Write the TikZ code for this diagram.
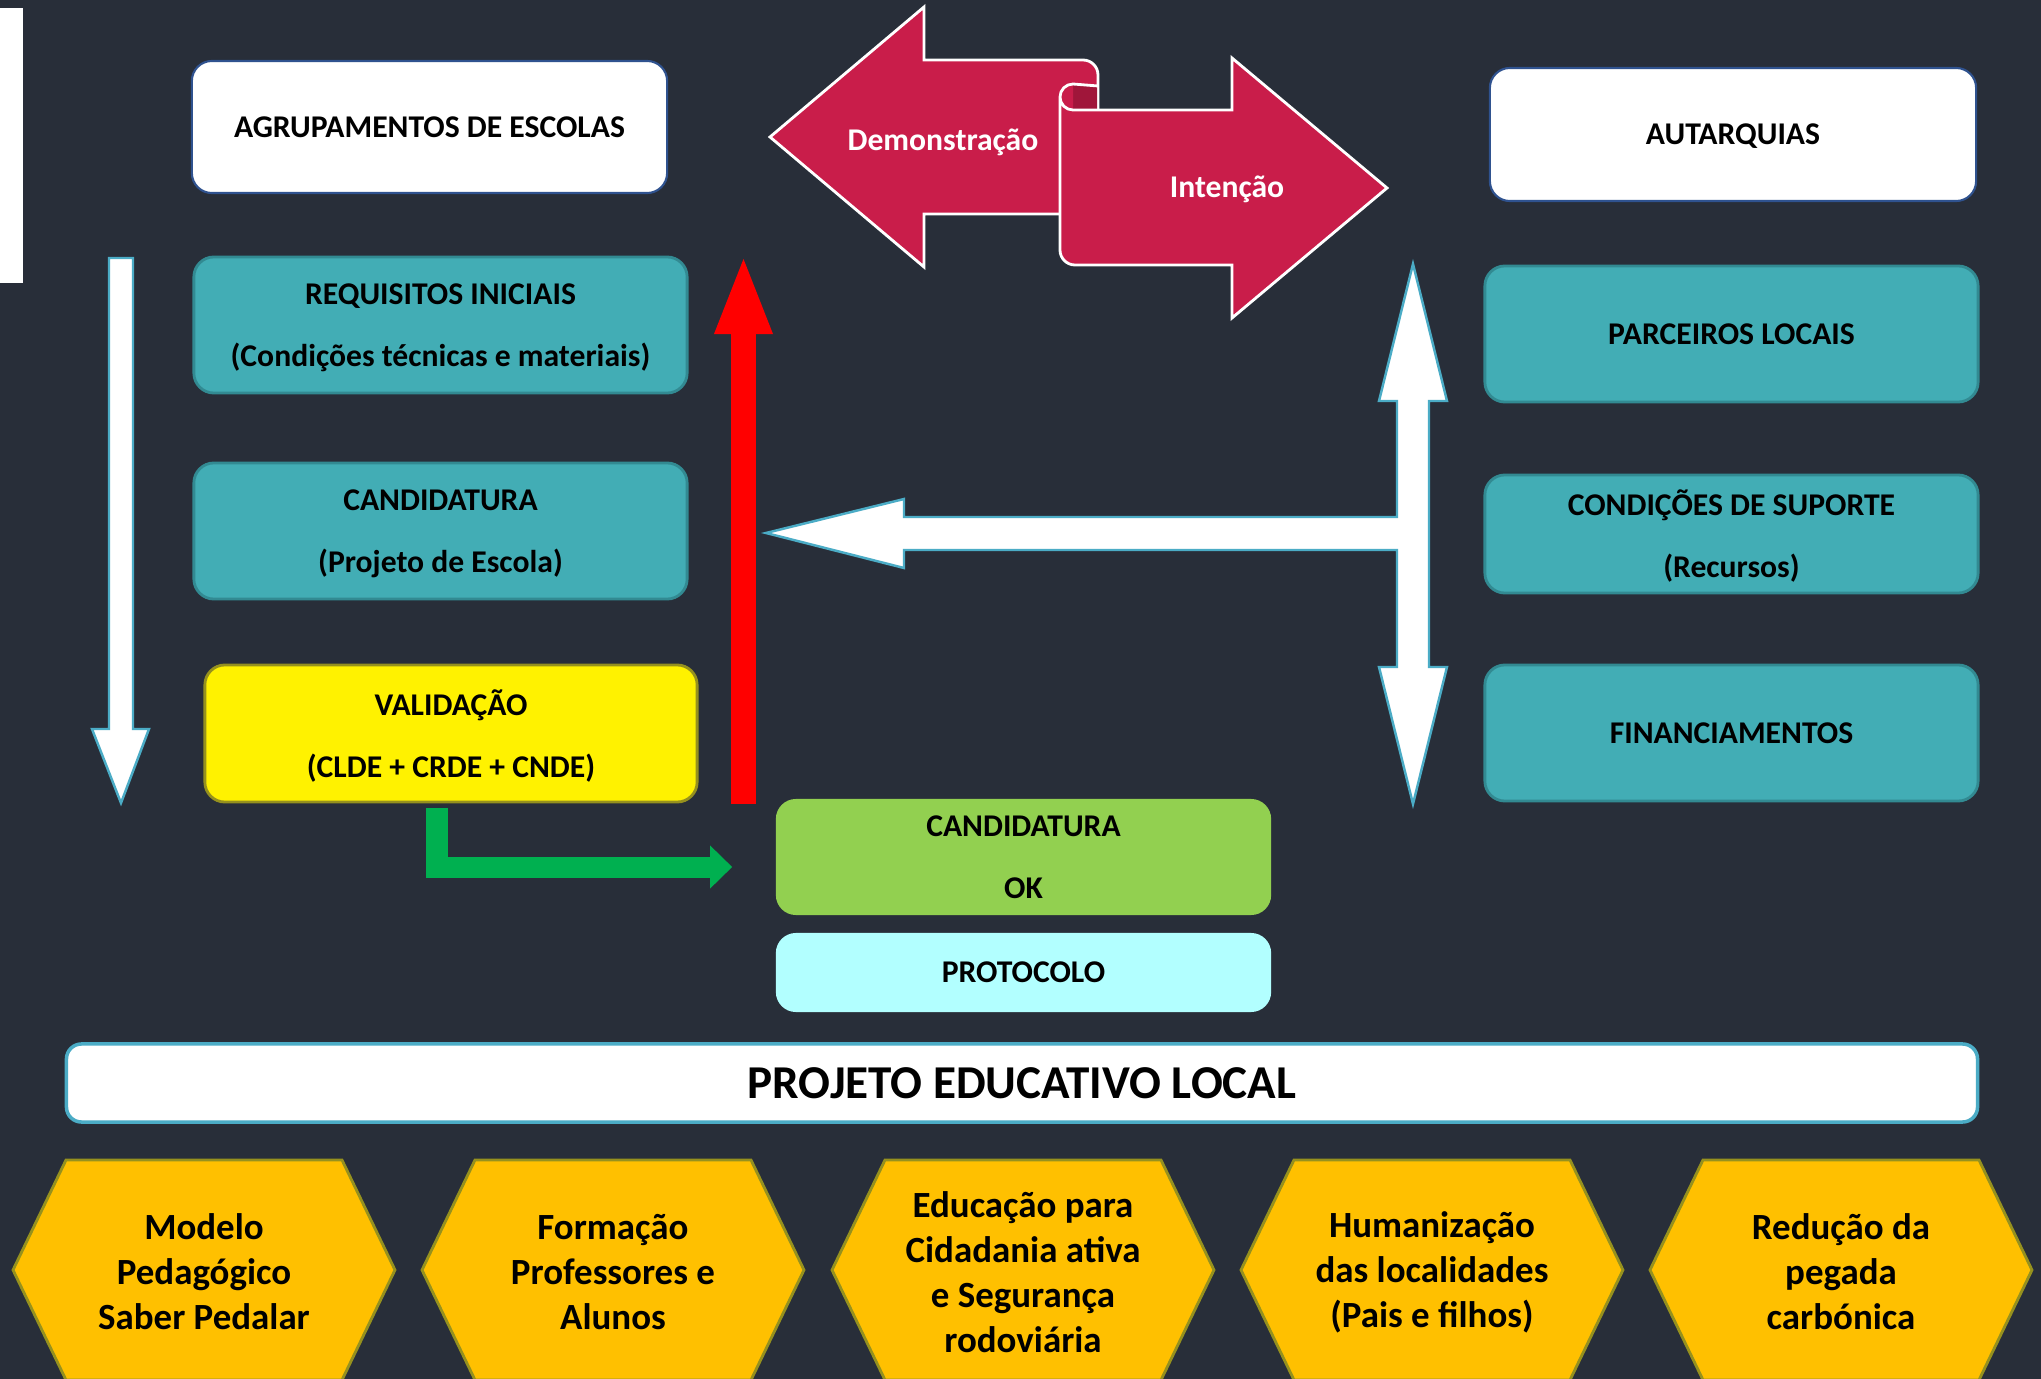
\documentclass[tikz,border=0pt]{standalone}
\usepackage{fontspec}
\setmainfont{Carlito}
\usetikzlibrary{arrows.meta}

\definecolor{fundo}{RGB}{40,46,57}
\definecolor{azulpet}{RGB}{66,173,181}
\definecolor{azulborda}{RGB}{50,138,146}
\definecolor{carmim}{RGB}{201,29,74}
\definecolor{carmimesc}{RGB}{160,22,58}
\definecolor{verdeok}{RGB}{146,208,80}
\definecolor{verdeseta}{RGB}{0,176,80}
\definecolor{ciano}{RGB}{178,255,255}
\definecolor{laranja}{RGB}{255,192,0}
\definecolor{oliva}{RGB}{150,145,30}
\definecolor{marinho}{RGB}{47,82,143}
\definecolor{contorno}{RGB}{75,172,198}

\begin{document}
\begin{tikzpicture}[x=0.01cm,y=-0.01cm,
    caixa/.style={rectangle,rounded corners=0.2cm,align=center,inner sep=0pt,text depth=0pt,
      font=\fontsize{9}{17.6}\selectfont\bfseries},
    branca/.style={caixa,fill=white,draw=marinho,line width=0.6pt},
    azul/.style={caixa,fill=azulpet,draw=azulborda,line width=0.8pt},
    seta/.style={fill=white,draw=contorno,line width=0.7pt},
    fita/.style={fill=carmim,draw=white,line width=0.8pt},
    hexa/.style={fill=laranja,draw=oliva,line width=0.8pt},
    hextexto/.style={align=center,font=\fontsize{10.5}{12.8}\selectfont\bfseries}]
  \useasboundingbox (0,0) rectangle (2041,1379);
  \fill[fundo] (0,0) rectangle (2041,1379);
  \fill[white] (0,8) rectangle (23,283);

  % left column
  \node[branca,minimum width=4.75cm,minimum height=1.32cm] (agr) at (429.5,127) {AGRUPAMENTOS DE ESCOLAS};
  \node[azul,minimum width=4.93cm,minimum height=1.36cm] (req) at (440.5,325) {REQUISITOS INICIAIS\\(Condições técnicas e materiais)};
  \node[azul,minimum width=4.93cm,minimum height=1.36cm] (cand) at (440.5,531) {CANDIDATURA\\(Projeto de Escola)};
  \node[caixa,fill=yellow,draw=oliva,line width=0.8pt,minimum width=4.92cm,minimum height=1.37cm] (valid) at (451,733.5) {VALIDAÇÃO\\(CLDE + CRDE + CNDE)};
  \draw[seta] (109,258) -- (133,258) -- (133,729) -- (149,729) -- (121,803) -- (92,729) -- (109,729) -- cycle;

  % right column
  \node[branca,minimum width=4.86cm,minimum height=1.33cm] (aut) at (1733,134.5) {AUTARQUIAS};
  \node[azul,minimum width=4.93cm,minimum height=1.36cm] (parc) at (1731.5,334) {PARCEIROS LOCAIS};
  \node[azul,minimum width=4.93cm,minimum height=1.18cm] (cond) at (1731.5,534) {CONDIÇÕES DE SUPORTE\\(Recursos)};
  \node[azul,minimum width=4.93cm,minimum height=1.36cm] (fin) at (1731.5,733) {FINANCIAMENTOS};
  \draw[seta] (1413,264) -- (1447,401) -- (1429,401) -- (1429,667) -- (1447,667) -- (1413,804)
    -- (1379,667) -- (1397,667) -- (1397,550) -- (904,550) -- (904,568) -- (766,533)
    -- (904,499) -- (904,517) -- (1397,517) -- (1397,401) -- (1379,401) -- cycle;

  % ribbon
  \draw[fita] (770,137) -- (924,7) -- (924,60) -- (1083,60) arc[start angle=-90,end angle=0,radius=15]
    -- (1098,214) -- (924,214) -- (924,267) -- cycle;
  \fill[carmimesc] (1073,85) -- (1097,86) -- (1097,110) -- (1073,110) -- cycle;
  \fill[carmim] (1073,84) arc[start angle=270,end angle=90,radius=13] -- cycle;
  \draw[white,line width=0.8pt] (1073,84) arc[start angle=270,end angle=180,radius=13];
  \draw[white,line width=0.8pt] (1073,84) -- (1098,86);
  \draw[fita] (1060,97) -- (1060,250) arc[start angle=180,end angle=90,radius=15] -- (1232,265)
    -- (1232,318) -- (1387,188) -- (1232,58) -- (1232,110) -- (1073,110)
    arc[start angle=90,end angle=180,radius=13] -- cycle;
  \node[font=\fontsize{9}{11}\selectfont\bfseries,text=white] (demo) at (943,142) {Demonstração};
  \node[font=\fontsize{9}{11}\selectfont\bfseries,text=white] (inten) at (1227,189) {Intenção};

  % centre
  \node[caixa,fill=verdeok,minimum width=4.95cm,minimum height=1.16cm] (ok) at (1023.5,857) {CANDIDATURA\\OK};
  \node[caixa,fill=ciano,minimum width=4.95cm,minimum height=0.79cm] (prot) at (1023.5,972.5) {PROTOCOLO};
  \coordinate (vermbase) at (743.5,804);
  \coordinate (vermtopo) at (743.5,259);
  \draw[red,line width=0.25cm,-{Triangle[length=0.75cm,width=0.59cm,line width=0pt]}] (vermbase) -- (vermtopo);
  \coordinate (okseta) at ([xshift=-0.43cm,yshift=-0.1cm]ok.west);
  \draw[verdeseta,line width=0.21cm,line join=miter,-{Triangle[length=0.22cm,width=0.43cm,line width=0pt]}]
    ([xshift=-0.14cm,yshift=-0.05cm]valid.south) |- (okseta);

  % bottom
  \node[caixa,rounded corners=0.15cm,fill=white,draw=contorno,line width=1pt,minimum width=19.1cm,minimum height=0.78cm,
    font=\fontsize{13.4}{16}\selectfont\bfseries] (pel) at (1022,1083) {PROJETO EDUCATIVO LOCAL};
  \foreach \cx/\txt [count=\i] in {204/{Modelo\\Pedagógico\\Saber Pedalar},
      613/{Formação\\Professores e\\Alunos},
      1023/{Educação para\\Cidadania ativa\\e Segurança\\rodoviária},
      1432/{Humanização\\das localidades\\(Pais e filhos)},
      1841/{Redução da\\pegada\\carbónica}}{
    \draw[hexa] (\cx-191,1270) -- (\cx-138,1160) -- (\cx+138,1160) -- (\cx+191,1270)
      -- (\cx+138,1380) -- (\cx-138,1380) -- cycle;
    \node[hextexto] (h\i) at (\cx,1272) {\txt};
  }
\end{tikzpicture}
\end{document}
